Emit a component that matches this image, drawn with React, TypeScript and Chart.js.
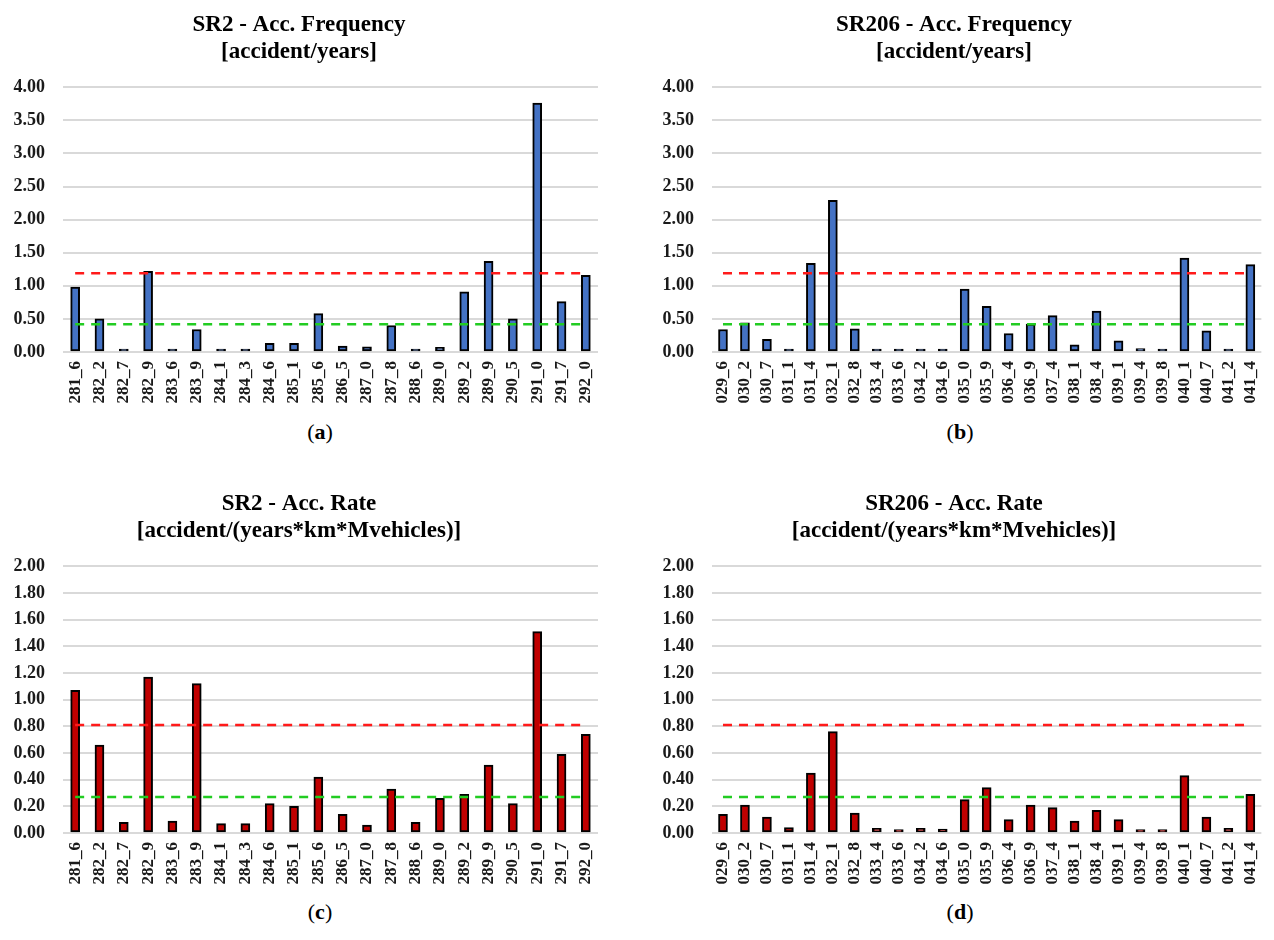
import React, { useEffect, useRef } from "react";
import { Chart, registerables } from "chart.js";

Chart.register(...registerables);

// ---------- data ----------
const sr2Labels = [
  "281_6", "282_2", "282_7", "282_9", "283_6", "283_9", "284_1", "284_3", "284_6", "285_1", "285_6",
  "286_5", "287_0", "287_8", "288_6", "289_0", "289_2", "289_9", "290_5", "291_0", "291_7", "292_0",
];
const sr206Labels = [
  "029_6", "030_2", "030_7", "031_1", "031_4", "032_1", "032_8", "033_4", "033_6", "034_2", "034_6",
  "035_0", "035_9", "036_4", "036_9", "037_4", "038_1", "038_4", "039_1", "039_4", "039_8", "040_1",
  "040_7", "041_2", "041_4",
];

const sr2Frequency = [
  0.98, 0.5, 0.02, 1.22, 0.04, 0.34, 0.02, 0.02, 0.13, 0.13, 0.58,
  0.09, 0.08, 0.4, 0.03, 0.07, 0.91, 1.37, 0.5, 3.76, 0.76, 1.16,
];
const sr206Frequency = [
  0.34, 0.44, 0.19, 0.03, 1.34, 2.29, 0.35, 0.01, 0.04, 0.02, 0.02,
  0.95, 0.69, 0.28, 0.42, 0.55, 0.11, 0.62, 0.17, 0.05, 0.03, 1.42,
  0.32, 0.01, 1.32,
];
const sr2Rate = [
  1.07, 0.66, 0.08, 1.17, 0.09, 1.12, 0.07, 0.07, 0.22, 0.2, 0.42,
  0.14, 0.06, 0.33, 0.08, 0.26, 0.29, 0.51, 0.22, 1.51, 0.59, 0.74,
];
const sr206Rate = [
  0.14, 0.21, 0.12, 0.04, 0.45, 0.76, 0.15, 0.035, 0.025, 0.035, 0.03,
  0.25, 0.34, 0.1, 0.21, 0.19, 0.09, 0.17, 0.1, 0.025, 0.025, 0.43,
  0.12, 0.035, 0.29,
];

const frequencyUpper = 1.19;
const frequencyLower = 0.42;
const rateUpper = 0.81;
const rateLower = 0.27;

const frequencyAxisMax = 4;
const frequencyAxisStep = 0.5;
const rateAxisMax = 2;
const rateAxisStep = 0.2;

// ---------- styles ----------
const SERIF = "'Liberation Serif', 'Times New Roman', serif";
const BLUE = "#4472C4";
const DARK_RED = "#C00000";
const GRID = "#d9d9d9";
const RED_DASH = "#ff1a1a";
const GREEN_DASH = "#22cc22";

const thresholdPlugin = {
  id: "thresholds",
  afterDatasetsDraw(chart: any, _args: any, opts: any) {
    const { ctx } = chart;
    const x = chart.scales.x;
    const y = chart.scales.y;
    const n = chart.data.labels.length;
    const x0 = x.getPixelForValue(0);
    const x1 = x.getPixelForValue(n - 1);
    for (const t of opts.lines || []) {
      const py = y.getPixelForValue(t.value);
      ctx.save();
      ctx.strokeStyle = t.color;
      ctx.lineWidth = 2.5;
      ctx.setLineDash([9, 7]);
      ctx.beginPath();
      ctx.moveTo(x0, py);
      ctx.lineTo(x1, py);
      ctx.stroke();
      ctx.restore();
    }
  },
};

type PanelProps = {
  left: number;
  top: number;
  width: number;
  height: number;
  title: string[];
  labels: string[];
  values: number[];
  color: string;
  yMax: number;
  yStep: number;
  axisWidth: number;
  padRight: number;
  upper: number;
  lower: number;
};

function Panel(p: PanelProps) {
  const ref = useRef<HTMLCanvasElement | null>(null);
  useEffect(() => {
    if (!ref.current) return;
    const chart = new Chart(ref.current, {
      type: "bar",
      data: {
        labels: p.labels,
        datasets: [
          {
            data: p.values,
            backgroundColor: p.color,
            borderColor: "#000",
            borderWidth: 2,
            borderSkipped: false,
            barThickness: 9,
            minBarLength: 3,
          },
        ],
      },
      options: {
        responsive: false,
        animation: false,
        devicePixelRatio: 1,
        layout: { padding: { left: 0, right: p.padRight, top: 0, bottom: 0 } },
        plugins: {
          legend: { display: false },
          tooltip: { enabled: false },
          title: {
            display: true,
            text: p.title,
            color: "#000",
            font: { family: SERIF, size: 23, weight: "bold", lineHeight: 1.18 },
            padding: { top: 11, bottom: 22 },
          },
          thresholds: {
            lines: [
              { value: p.upper, color: RED_DASH },
              { value: p.lower, color: GREEN_DASH },
            ],
          },
        } as any,
        scales: {
          x: {
            grid: { display: false, drawTicks: false },
            border: { display: false },
            ticks: {
              minRotation: 90,
              maxRotation: 90,
              autoSkip: false,
              padding: 9,
              color: "#1a1a1a",
              font: { family: SERIF, size: 17, weight: "bold" },
            },
            afterFit: (s: any) => {
              s.height = 55;
            },
          },
          y: {
            min: 0,
            max: p.yMax,
            grid: { color: GRID, lineWidth: 2, drawTicks: false },
            border: { display: false },
            ticks: {
              stepSize: p.yStep,
              padding: 18,
              color: "#1a1a1a",
              font: { family: SERIF, size: 18, weight: "bold" },
              callback: (v: any) => Number(v).toFixed(2),
            },
            afterFit: (s: any) => {
              s.width = p.axisWidth;
            },
          },
        },
      },
      plugins: [thresholdPlugin as any],
    });
    return () => chart.destroy();
  }, []);
  return (
    <canvas
      ref={ref}
      width={p.width}
      height={p.height}
      style={{ position: "absolute", left: p.left, top: p.top, width: p.width, height: p.height }}
    />
  );
}

function Caption({ x, y, letter }: { x: number; y: number; letter: string }) {
  return (
    <div
      style={{
        position: "absolute",
        left: x - 50,
        top: y,
        width: 100,
        textAlign: "center",
        fontFamily: SERIF,
        fontSize: 22,
        lineHeight: "24px",
        color: "#000",
      }}
    >
      (<b>{letter}</b>)
    </div>
  );
}

export default function App() {
  return (
    <div
      style={{
        position: "absolute",
        left: 0,
        top: 0,
        width: 1274,
        height: 940,
        overflow: "hidden",
        background: "#fff",
      }}
    >
      <Panel
        left={0}
        top={0}
        width={640}
        height={407}
        title={["SR2 - Acc. Frequency", "[accident/years]"]}
        labels={sr2Labels}
        values={sr2Frequency}
        color={BLUE}
        yMax={frequencyAxisMax}
        yStep={frequencyAxisStep}
        axisWidth={63}
        padRight={42}
        upper={frequencyUpper}
        lower={frequencyLower}
      />
      <Panel
        left={640}
        top={0}
        width={640}
        height={407}
        title={["SR206 - Acc. Frequency", "[accident/years]"]}
        labels={sr206Labels}
        values={sr206Frequency}
        color={BLUE}
        yMax={frequencyAxisMax}
        yStep={frequencyAxisStep}
        axisWidth={72}
        padRight={12}
        upper={frequencyUpper}
        lower={frequencyLower}
      />
      <Panel
        left={0}
        top={479}
        width={640}
        height={409}
        title={["SR2 - Acc. Rate", "[accident/(years*km*Mvehicles)]"]}
        labels={sr2Labels}
        values={sr2Rate}
        color={DARK_RED}
        yMax={rateAxisMax}
        yStep={rateAxisStep}
        axisWidth={63}
        padRight={42}
        upper={rateUpper}
        lower={rateLower}
      />
      <Panel
        left={640}
        top={479}
        width={640}
        height={409}
        title={["SR206 - Acc. Rate", "[accident/(years*km*Mvehicles)]"]}
        labels={sr206Labels}
        values={sr206Rate}
        color={DARK_RED}
        yMax={rateAxisMax}
        yStep={rateAxisStep}
        axisWidth={72}
        padRight={12}
        upper={rateUpper}
        lower={rateLower}
      />
      <Caption x={320} y={420} letter="a" />
      <Caption x={960} y={420} letter="b" />
      <Caption x={320} y={900} letter="c" />
      <Caption x={960} y={900} letter="d" />
    </div>
  );
}
